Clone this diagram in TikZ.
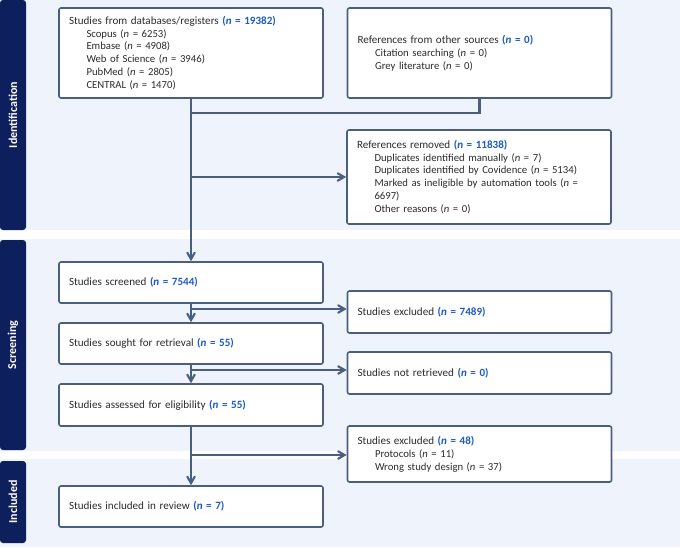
\documentclass[tikz,border=0pt]{standalone}
\usepackage{fontspec}
\setmainfont{Carlito}
\usepackage{xcolor}
\usepackage{tikz}
\usetikzlibrary{
    arrows
}
\definecolor{bandbg}{HTML}{EEF3FC}
\definecolor{navy}{HTML}{0D1F5C}
\definecolor{edge}{HTML}{4A5E80}
\definecolor{nblue}{HTML}{1E5BC6}
\definecolor{txt}{HTML}{2B2B2B}
\newcommand{\nbold}[1]{{\color{nblue}\bfseries(\textit{n} = #1)}}
\newcommand{\nsub}[1]{(\textit{n} = #1)}
\newcommand{\head}[1]{{\fontsize{11.1}{12.8}\selectfont #1}}
\newcommand{\sitem}[1]{\hspace*{17.5pt}{\fontsize{10.7}{12.8}\selectfont #1}}

\begin{document}
\begin{tikzpicture}[x=1pt,y=-1pt,->,>=angle 60,line width=2.1pt,draw=edge]
    \tikzstyle{box}=[draw=edge, line width=1.6pt, fill=white, rounded corners=2pt, text=txt,
        inner xsep=10pt, text width=244pt, align=left, font=\fontsize{10.7}{12.8}\selectfont]
    \tikzstyle{sidebar}=[fill=navy, text=white, rounded corners=3pt, minimum height=26pt,
        rotate=90, font=\fontsize{12}{13}\selectfont\bfseries]
    \tikzstyle{flow}=[draw=edge, line width=2.1pt]
    \useasboundingbox (0,0) rectangle (680,547);
    \fill[bandbg] (0,0) rectangle (680,230);
    \fill[bandbg] (0,239) rectangle (680,451);
    \fill[bandbg] (0,459) rectangle (680,547);
    \node[sidebar, minimum width=230pt] (idbar) at (13,115) {Identification};
    \node[sidebar, minimum width=210pt] (scbar) at (13,345) {Screening};
    \node[sidebar, minimum width=82pt] (inbar) at (13,502) {Included};
    \node[box, minimum height=90pt] (db) at (191,53) {\head{Studies from databases/registers \nbold{19382}}\\
        \sitem{Scopus \nsub{6253}}\\
        \sitem{Embase \nsub{4908}}\\
        \sitem{Web of Science \nsub{3946}}\\
        \sitem{PubMed \nsub{2805}}\\
        \sitem{CENTRAL \nsub{1470}}};
    \node[box, minimum height=90pt] (other) at (479.5,53) {\head{References from other sources \nbold{0}}\\
        \sitem{Citation searching \nsub{0}}\\
        \sitem{Grey literature \nsub{0}}};
    \node[box, minimum height=94pt] (removed) at (479,177) {\head{References removed \nbold{11838}}\\
        \sitem{Duplicates identified manually \nsub{7}}\\
        \sitem{Duplicates identified by Covidence \nsub{5134}}\\
        \sitem{Marked as ineligible by automation tools (\textit{n} =}\\
        \sitem{6697)}\\
        \sitem{Other reasons \nsub{0}}};
    \node[box, minimum height=41pt] (screened) at (191,282.5) {\head{Studies screened \nbold{7544}}};
    \node[box, minimum height=42pt] (excl1) at (479.5,312) {\head{Studies excluded \nbold{7489}}};
    \node[box, minimum height=41pt] (sought) at (191,343.5) {\head{Studies sought for retrieval \nbold{55}}};
    \node[box, minimum height=42pt] (notret) at (479.5,373) {\head{Studies not retrieved \nbold{0}}};
    \node[box, minimum height=42pt] (assessed) at (191,405) {\head{Studies assessed for eligibility \nbold{55}}};
    \node[box, minimum height=56pt] (excl2) at (479.5,454) {\head{Studies excluded \nbold{48}}\\
        \sitem{Protocols \nsub{11}}\\
        \sitem{Wrong study design \nsub{37}}};
    \node[box, minimum height=41pt] (included) at (191,506.5) {\head{Studies included in review \nbold{7}}};
    \coordinate (j1) at (191,113);
    \coordinate (j2) at (191,177);
    \coordinate (j3) at (191,309);
    \coordinate (j4) at (191,370);
    \coordinate (j5) at (191,455);
    \draw[flow,-] (other.south) |- (j1);
    \draw[flow] (db.south) -- (screened.north);
    \draw[flow] (j2) -- (removed.west);
    \draw[flow] (screened.south) -- (sought.north);
    \draw[flow] (j3) -- (j3 -| excl1.west);
    \draw[flow] (sought.south) -- (assessed.north);
    \draw[flow] (j4) -- (j4 -| notret.west);
    \draw[flow] (assessed.south) -- (included.north);
    \draw[flow] (j5) -- (j5 -| excl2.west);
\end{tikzpicture}
\end{document}
